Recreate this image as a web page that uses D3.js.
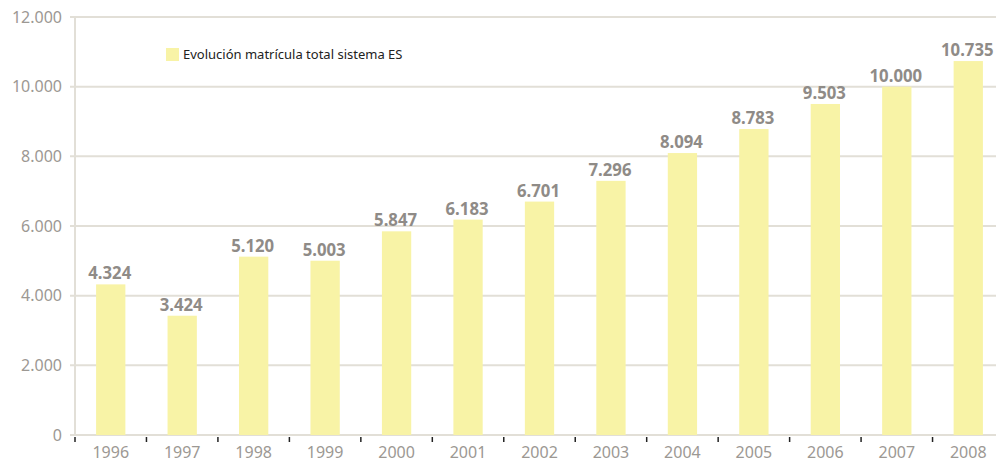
<!DOCTYPE html>
<html>
<head>
<meta charset="utf-8">
<script src="https://cdn.jsdelivr.net/npm/d3@7"></script>
<style>
  body { margin: 0; background: #fff; }
</style>
</head>
<body>
<div id="chart"></div>
<script>
const years = ["1996", "1997", "1998", "1999", "2000", "2001", "2002", "2003", "2004", "2005", "2006", "2007", "2008"];
const matricula = [4324, 3424, 5120, 5003, 5847, 6183, 6701, 7296, 8094, 8783, 9503, 10000, 10735];
const yTicks = [0, 2000, 4000, 6000, 8000, 10000, 12000];
const legendLabel = "Evolución matrícula total sistema ES";

const fmt = v => d3.format(",")(v).replace(/,/g, ".");

function drawChart() {
    const margin = {top: 17, right: 0, bottom: 27, left: 75},
        width = 1004 - margin.left,
        height = 462 - margin.top - margin.bottom;

    const svg = d3.select("#chart")
        .append("svg")
            .attr("width", 996)
            .attr("height", 462);

    const g = svg.append("g")
        .attr("transform", "translate(" + margin.left + "," + margin.top + ")");

    const x = d3.scaleBand()
        .domain(years)
        .range([0, width])
        .paddingInner(0.59)
        .paddingOuter(0.295);

    const y = d3.scaleLinear()
        .domain([0, 12000])
        .range([height, 0]);

    // gridlines
    g.selectAll(".grid")
        .data(yTicks)
        .join("line")
            .attr("class", "grid")
            .attr("x1", -5)
            .attr("x2", width)
            .attr("y1", d => y(d))
            .attr("y2", d => y(d))
            .style("stroke", "#e2dfd7")
            .style("stroke-width", 2);

    // y axis line
    g.append("line")
        .attr("x1", 0).attr("x2", 0)
        .attr("y1", y(12000)).attr("y2", y(0))
        .style("stroke", "#e2dfd7")
        .style("stroke-width", 2);

    // y labels
    g.selectAll(".y-label")
        .data(yTicks)
        .join("text")
            .attr("class", "y-label")
            .attr("x", -13)
            .attr("y", d => y(d))
            .attr("dy", "0.35em")
            .style("text-anchor", "end")
            .style("font-family", "'Noto Sans'")
            .style("font-size", "16px")
            .style("fill", "#9c9893")
            .text(d => fmt(d));

    // bars
    g.selectAll(".bar")
        .data(matricula)
        .join("rect")
            .attr("class", "bar")
            .attr("x", (d, i) => x(years[i]))
            .attr("y", d => y(d))
            .attr("width", x.bandwidth())
            .attr("height", d => y(0) - y(d))
            .attr("fill", "#f8f3a6");

    // value labels, squeezed a little to look condensed
    g.selectAll(".value")
        .data(matricula)
        .join("text")
            .attr("class", "value")
            .attr("transform", (d, i) => "translate(" + (x(years[i]) + x.bandwidth() / 2 - 1) + "," + (y(d) - 5) + ") scale(0.93,1)")
            .style("text-anchor", "middle")
            .style("font-family", "'Noto Sans'")
            .style("font-weight", 700)
            .style("font-size", "18px")
            .style("fill", "#8f8b87")
            .text(d => fmt(d));

    // x axis ticks (black stubs at band boundaries)
    const step = x.step();
    const bounds = d3.range(years.length + 1).map(i => i * step);
    g.selectAll(".x-tick")
        .data(bounds)
        .join("line")
            .attr("class", "x-tick")
            .attr("x1", d => d).attr("x2", d => d)
            .attr("y1", height + 2).attr("y2", height + 7)
            .style("stroke", "#222")
            .style("stroke-width", 1.5);

    // year labels
    g.selectAll(".year")
        .data(years)
        .join("text")
            .attr("class", "year")
            .attr("x", d => x(d) + x.bandwidth() / 2)
            .attr("y", height + 23)
            .style("text-anchor", "middle")
            .style("font-family", "'Noto Sans'")
            .style("font-size", "16px")
            .style("fill", "#9c9893")
            .text(d => d);

    // legend
    const legend = svg.append("g")
        .attr("transform", "translate(166,48)");
    legend.append("rect")
        .attr("width", 13)
        .attr("height", 13)
        .attr("fill", "#f8f3a6");
    legend.append("text")
        .attr("x", 17)
        .attr("y", 11)
        .style("font-family", "'Noto Sans'")
        .style("font-size", "13px")
        .style("fill", "#222")
        .text(legendLabel);
}

drawChart();
</script>
</body>
</html>
